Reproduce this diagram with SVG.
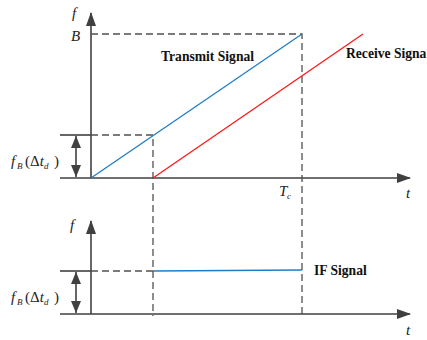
<svg xmlns="http://www.w3.org/2000/svg" width="427" height="340" viewBox="0 0 427 340">
<style>
.ax{stroke:#404040;stroke-width:1.6;fill:none}
.dash{stroke:#505050;stroke-width:1.3;fill:none;stroke-dasharray:7,4}
.m{font-family:"Liberation Serif","Times New Roman",serif;font-style:italic;font-size:15px;fill:#222}
.s{font-family:"Liberation Serif","Times New Roman",serif;font-size:9px;font-style:italic;fill:#222}
.p{font-family:"Liberation Serif","Times New Roman",serif;font-size:15px;fill:#222}
.lb{font-family:"Liberation Serif","Times New Roman",serif;font-weight:bold;font-size:13.6px;fill:#111}
</style>
<defs>
<marker id="ah" markerWidth="14" markerHeight="10" refX="13" refY="5" orient="auto" markerUnits="userSpaceOnUse"><path d="M0,0 L14,5 L0,10 Z" fill="#404040"/></marker>
<marker id="ahs" markerWidth="12" markerHeight="10" refX="12" refY="5" orient="auto-start-reverse" markerUnits="userSpaceOnUse"><path d="M0,0 L12,5 L0,10 Z" fill="#404040"/></marker>
</defs>
<g id="connectors">
<line class="ax" x1="91" y1="178" x2="91" y2="13" marker-end="url(#ah)"/>
<line class="ax" x1="60" y1="178" x2="410" y2="178" marker-end="url(#ah)"/>
<line class="ax" x1="60" y1="135" x2="91" y2="135"/>
<line class="ax" x1="76" y1="136" x2="76" y2="177" marker-start="url(#ahs)" marker-end="url(#ahs)"/>
<path class="dash" d="M91,34 H302 V316"/>
<path class="dash" d="M91,135 H153 V316"/>
<line x1="91" y1="178" x2="302" y2="34" stroke="#1e7dc8" stroke-width="1.3"/>
<line x1="153" y1="178" x2="363" y2="34" stroke="#ff1a1a" stroke-width="1.3"/>
<line class="ax" x1="91" y1="314" x2="91" y2="221" marker-end="url(#ah)"/>
<line class="ax" x1="60" y1="314" x2="410" y2="314" marker-end="url(#ah)"/>
<line class="ax" x1="60" y1="271" x2="91" y2="271"/>
<line class="ax" x1="76" y1="272" x2="76" y2="313" marker-start="url(#ahs)" marker-end="url(#ahs)"/>
<path class="dash" d="M91,271 H153"/>
<line x1="153" y1="271" x2="302" y2="270" stroke="#1e7dc8" stroke-width="1.5"/>
</g>
<g id="labels-top">
<text class="m" x="72" y="18">f</text>
<text class="m" x="71" y="41">B</text>
<text class="m" x="11" y="166">f</text><text class="s" x="17" y="169">B</text><text class="p" x="25" y="166">(Δ<tspan font-style="italic">t</tspan></text><text class="s" x="44" y="169">d</text><text class="p" x="54" y="166">)</text>
<text class="m" x="279" y="196">T</text><text class="s" x="287" y="199">c</text>
<text class="m" x="406" y="198">t</text>
<text class="lb" x="161" y="61">Transmit Signal</text>
<text class="lb" x="346" y="58">Receive Signa</text>
</g>
<g id="labels-bottom">
<text class="m" x="70" y="230">f</text>
<text class="m" x="11" y="302">f</text><text class="s" x="17" y="305">B</text><text class="p" x="25" y="302">(Δ<tspan font-style="italic">t</tspan></text><text class="s" x="44" y="305">d</text><text class="p" x="54" y="302">)</text>
<text class="m" x="406" y="335">t</text>
<text class="lb" x="314" y="275">IF Signal</text>
</g>
</svg>
